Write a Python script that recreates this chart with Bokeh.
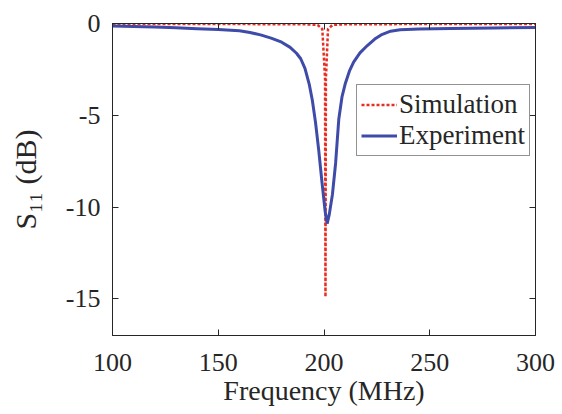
import numpy as np
from bokeh.plotting import figure
from bokeh.models import Range1d, LinearAxis, FixedTicker, Legend, LegendItem
from bokeh.embed import file_html
from bokeh.resources import INLINE

# ---- data ----
freq_sim = [100, 150, 190, 197, 199.2, 200.5, 200.7, 200.9, 201.9, 204, 210, 250, 300]
s11_sim = [-0.03, -0.03, -0.04, -0.08, -0.3, -3.0, -14.9, -3.0, -0.3, -0.08, -0.04, -0.03, -0.03]

freq_exp = [100, 110, 120, 130, 140, 150, 160, 165, 170, 175, 180, 184, 187, 189,
            191, 193, 194.5, 196, 197.5, 199, 200.5, 201.5, 202.5, 204, 205.5, 207,
            208.5, 210, 212, 214, 217, 220.5, 224, 227, 231.5, 236, 245, 260, 280, 300]
s11_exp = [-0.13, -0.16, -0.19, -0.23, -0.28, -0.33, -0.40, -0.49, -0.62, -0.80, -1.02,
           -1.30, -1.62, -1.92, -2.45, -3.3, -4.2, -5.4, -6.9, -8.6, -10.2, -10.9, -10.4,
           -9.3, -7.6, -5.2, -4.0, -3.3, -2.6, -2.1, -1.6, -1.2, -0.85, -0.62, -0.42,
           -0.34, -0.30, -0.27, -0.24, -0.22]

x_ticks = [100, 150, 200, 250, 300]
y_ticks = [0, -5, -10, -15]
x_label = "Frequency (MHz)"
y_label = "S\u2081\u2081 (dB)"

FONT = "Liberation Serif"
TXT = "#262626"
RED = "#E62E22"
BLUE = "#3F4BA8"

p = figure(width=562, height=414, output_backend="svg", toolbar_location=None,
           x_range=Range1d(100, 300), y_range=Range1d(-17, 0),
           min_border_left=112, min_border_right=27, min_border_top=23, min_border_bottom=79)
p.xgrid.visible = False
p.ygrid.visible = False
p.outline_line_color = TXT
p.outline_line_width = 1
p.background_fill_color = "white"
p.border_fill_color = "white"

r_sim = p.line(freq_sim, s11_sim, line_color=RED, line_width=2.5, line_dash="3 2")
r_exp = p.line(freq_exp, s11_exp, line_color=BLUE, line_width=3)

def style_axis(ax, ticks, show_labels=True):
    ax.ticker = FixedTicker(ticks=ticks)
    ax.minor_tick_line_color = None
    ax.major_tick_in = 6
    ax.major_tick_out = 0
    ax.axis_line_color = TXT
    ax.major_tick_line_color = TXT
    ax.major_label_text_font = FONT
    ax.major_label_text_color = TXT
    ax.major_label_text_font_size = "26px"
    if show_labels:
        ax.major_label_overrides = {t: str(t) for t in ticks}
    else:
        ax.major_label_overrides = {t: "" for t in ticks}
        ax.major_label_standoff = 0

style_axis(p.xaxis[0], x_ticks)
style_axis(p.yaxis[0], y_ticks)
p.xaxis[0].major_label_standoff = 18
p.yaxis[0].major_label_standoff = 12

for ax in (p.xaxis[0], p.yaxis[0]):
    ax.axis_label_text_font = FONT
    ax.axis_label_text_font_style = "normal"
    ax.axis_label_text_color = TXT
p.xaxis[0].axis_label = x_label
p.xaxis[0].axis_label_text_font_size = "28px"
p.xaxis[0].axis_label_standoff = 1
p.yaxis[0].axis_label = y_label
p.yaxis[0].axis_label_text_font_size = "30px"
p.yaxis[0].axis_label_standoff = 21

top_ax = LinearAxis()
style_axis(top_ax, x_ticks, show_labels=False)
p.add_layout(top_ax, "above")
right_ax = LinearAxis()
style_axis(right_ax, y_ticks, show_labels=False)
p.add_layout(right_ax, "right")

legend = Legend(items=[LegendItem(label="Simulation", renderers=[r_sim]),
                       LegendItem(label="Experiment", renderers=[r_exp])],
                location=(244, 179), margin=0, padding=4, spacing=0,
                label_height=29, glyph_height=29, glyph_width=36, label_standoff=2,
                label_text_font=FONT, label_text_font_size="27px", label_text_color=TXT,
                border_line_color=TXT, border_line_width=1,
                background_fill_color="white", background_fill_alpha=1)
p.add_layout(legend)

open("out.html", "w").write(file_html(p, INLINE))
